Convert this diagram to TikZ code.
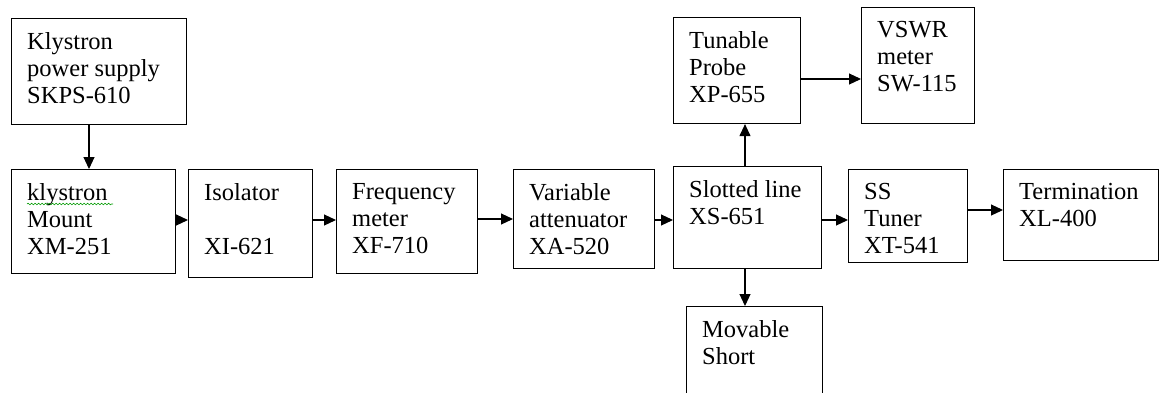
\documentclass[tikz,border=0pt]{standalone}
\usepackage{fontspec}
\setmainfont{Liberation Serif}
\usetikzlibrary{arrows.meta,decorations.pathmorphing}

\begin{document}
\begin{tikzpicture}[x=1pt,y=-1pt,
  box/.style={draw, line width=1.1pt, anchor=north west, inner sep=0pt},
  txt/.style={anchor=north west, align=left, inner xsep=16pt, inner ysep=14pt,
    font=\fontsize{24.5}{27}\selectfont},
  arr/.style={line width=1.1pt, -{Triangle[length=12pt,width=11pt]}}]

\clip (0,0) rectangle (1163,392);

% Top blocks
\node[box, minimum width=175pt, minimum height=106pt,
  label={[txt]north west:Klystron\\power supply\\SKPS-610}] (ps) at (11,18) {};
\node[box, minimum width=127pt, minimum height=106pt,
  label={[txt]north west:Tunable\\Probe\\XP-655}] (probe) at (673,17) {};
\node[box, minimum width=113pt, minimum height=116pt,
  label={[txt]north west:VSWR\\meter\\SW-115}] (vswr) at (861,7) {};

% Main line
\node[box, minimum width=164pt, minimum height=104pt,
  label={[txt]north west:klystron\\Mount\\XM-251}] (mount) at (11,169) {};
\node[box, minimum width=124pt, minimum height=108pt,
  label={[txt]north west:Isolator\\\\XI-621}] (iso) at (188,169) {};
\node[box, minimum width=141pt, minimum height=104pt,
  label={[txt]north west:Frequency\\meter\\XF-710}] (freq) at (336,169) {};
\node[box, minimum width=141pt, minimum height=99pt,
  label={[txt]north west:Variable\\attenuator\\XA-520}] (att) at (513,169) {};
\node[box, minimum width=148pt, minimum height=102pt,
  label={[txt]north west:Slotted line\\XS-651}] (slot) at (673,166) {};
\node[box, minimum width=119pt, minimum height=93pt,
  label={[txt]north west:SS\\Tuner\\XT-541}] (tuner) at (848,169) {};
\node[box, minimum width=155pt, minimum height=91pt,
  label={[txt]north west:Termination\\XL-400}] (term) at (1003,169) {};

% Bottom block
\node[box, minimum width=136pt, minimum height=120pt,
  label={[txt]north west:Movable\\Short}] (short) at (686,306) {};

% spell check mark
\draw[green!60!black, line width=0.6pt, decorate,
  decoration={snake, amplitude=0.8pt, segment length=3.5pt}]
  ([xshift=16pt,yshift=-35pt]mount.north west) -- ([xshift=102pt,yshift=-35pt]mount.north west);

% Arrows
\draw[arr] (ps.south -| 89,0) -- (mount.north -| 89,0);
\draw[arr] (mount.east |- 0,220) -- (iso.west |- 0,220);
\draw[arr] (iso.east |- 0,220) -- (freq.west |- 0,220);
\draw[arr] (freq.east |- 0,219) -- (att.west |- 0,219);
\draw[arr] (att.east |- 0,220) -- (slot.west |- 0,220);
\draw[arr] (slot.east |- 0,220) -- (tuner.west |- 0,220);
\draw[arr] (tuner.east |- 0,210) -- (term.west |- 0,210);
\draw[arr] (slot.north -| 745,0) -- (probe.south -| 745,0);
\draw[arr] (probe.east |- 0,79) -- (vswr.west |- 0,79);
\draw[arr] (slot.south -| 745,0) -- (short.north -| 745,0);

\end{tikzpicture}
\end{document}
